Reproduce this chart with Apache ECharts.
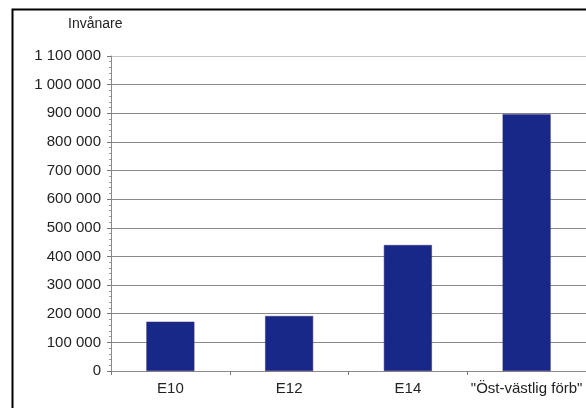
<!DOCTYPE html>
<html><head><meta charset="utf-8">
<script src="https://cdn.jsdelivr.net/npm/echarts@6/dist/echarts.min.js"></script>
<style>html,body{margin:0;padding:0;background:#fff}#c{width:586px;height:408px}</style>
</head><body><div id="c"></div>
<script>
const categories = ['E10', 'E12', 'E14', '"Öst-västlig förb"'];
const values = [172000, 192000, 440000, 897000];
const yTitle = 'Invånare';
const yMax = 1100000;
const yStep = 100000;

const chart = echarts.init(document.getElementById('c'), null, {renderer: 'canvas'});
const font = 'Liberation Sans, Arial, sans-serif';
const gridColors = [];
for (let i = 0; i < yMax / yStep; i++) gridColors.push('#8a8a8a');
gridColors.push('#c4c4c4');
chart.setOption({
  animation: false,
  backgroundColor: '#ffffff',
  grid: {left: 111, top: 56, width: 476, bottom: 37, containLabel: false},
  xAxis: {
    type: 'category', data: categories,
    axisLine: {lineStyle: {color: '#8a8a8a', width: 1}},
    axisTick: {show: true, length: 4, lineStyle: {color: '#777'}},
    axisLabel: {color: '#222', fontFamily: font, fontSize: 15, margin: 10, interval: 0}
  },
  yAxis: {
    type: 'value', min: 0, max: yMax, interval: yStep,
    axisLine: {show: true, lineStyle: {color: '#8a8a8a'}},
    axisTick: {show: true, length: 4, lineStyle: {color: '#777'}},
    minorTick: {show: true, splitNumber: 5, length: 2, lineStyle: {color: '#999'}},
    splitLine: {show: true, lineStyle: {color: gridColors, width: 1}},
    axisLabel: {color: '#222', fontFamily: font, fontSize: 15, margin: 10,
      formatter: v => String(v).replace(/\B(?=(\d{3})+(?!\d))/g, ' ')}
  },
  series: [{
    type: 'bar', data: values, barWidth: 48,
    itemStyle: {color: '#182888', borderColor: '#3a2a70', borderWidth: 0.5}
  }],
  graphic: [
    {type: 'text', left: 68, top: 17, style: {text: yTitle, fill: '#222', font: '14px ' + font}},
    {type: 'rect', shape: {x: 12.5, y: 9.5, width: 620, height: 430}, style: {fill: 'none', stroke: '#000', lineWidth: 2}, z: 100}
  ]
});
</script></body></html>
